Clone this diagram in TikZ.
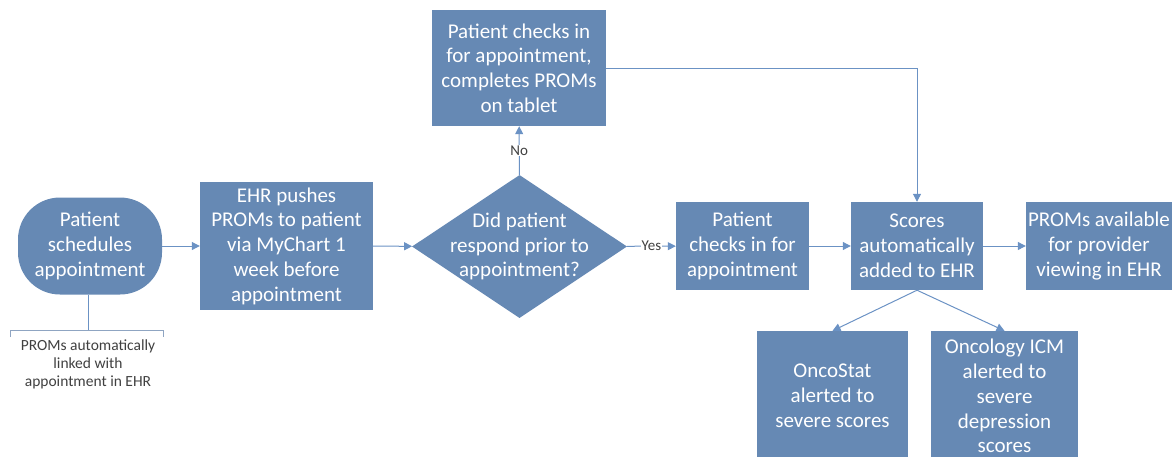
\documentclass[tikz,border=0pt]{standalone}
\usepackage{fontspec}
\setmainfont{Carlito}
\usepackage{tikz}
\usetikzlibrary{arrows.meta,shapes.geometric,positioning}

\definecolor{boxblue}{HTML}{6689B4}
\definecolor{lineblue}{HTML}{6B92C4}
\definecolor{bracketgray}{HTML}{8FA5C2}
\definecolor{labelgray}{HTML}{404040}

\tikzset{
  flowbox/.style={rectangle, fill=boxblue, text=white, align=center, inner sep=0pt,
    font=\fontsize{21}{24.8}\selectfont},
  decision/.style={diamond, fill=boxblue, inner sep=0pt},
  flowtext/.style={text=white, align=center, inner sep=0pt, font=\fontsize{21}{24.8}\selectfont},
  conn/.style={draw=lineblue, line width=1pt, -{Triangle[length=8pt,width=8pt]}},
  answer/.style={fill=white, text=labelgray, inner sep=1pt, font=\fontsize{15}{17}\selectfont},
  notetext/.style={text=labelgray, align=center, inner sep=0pt, font=\fontsize{15.5}{18}\selectfont}
}

\begin{document}
\begin{tikzpicture}[x=1pt,y=-1pt]
\useasboundingbox (0,0) rectangle (1174,456);

% boxes
\node[flowbox, rounded corners=42pt, minimum width=144pt, minimum height=97pt] (sched) at (90,246)
  {Patient\\schedules\\appointment};
\node[flowbox, minimum width=173pt, minimum height=128pt] (push) at (286.5,246)
  {EHR pushes\\PROMs to patient\\via MyChart 1\\week before\\appointment};
\node[decision, minimum width=215pt, minimum height=143pt] (resp) at (519.5,246.5) {};
\node[flowtext] at (resp) {Did patient\\respond prior to\\appointment?};
\node[flowbox, minimum width=174pt, minimum height=116pt] (tablet) at (519,68)
  {Patient checks in\\for appointment,\\completes PROMs\\on tablet};
\node[flowbox, minimum width=133pt, minimum height=88pt] (checkin) at (742.5,246)
  {Patient\\checks in for\\appointment};
\node[flowbox, minimum width=132pt, minimum height=88pt] (scores) at (917,246)
  {Scores\\automatically\\added to EHR};
\node[flowbox, minimum width=146pt, minimum height=88pt] (avail) at (1099,246)
  {PROMs available\\for provider\\viewing in EHR};
\node[flowbox, minimum width=151pt, minimum height=130pt] (oncostat) at (832.5,396)
  {OncoStat\\alerted to\\severe scores};
\node[flowbox, minimum width=147pt, minimum height=130pt] (icm) at (1004.5,396)
  {Oncology ICM\\alerted to\\severe\\depression\\scores};

% note under the first step
\coordinate (brk) at (88,330);
\draw[draw=lineblue, line width=1pt] (sched.south -| brk) -- (brk);
\draw[draw=bracketgray, line width=1pt] (10,337) -- (10,330) -- (163,330) -- (163,337);
\node[notetext] (note) at (88,364) {PROMs automatically\\linked with\\appointment in EHR};

% connectors
\draw[conn] (sched) -- (push);
\draw[conn] (push) -- (resp);
\draw[conn] (resp) -- node[answer] {Yes} (checkin);
\draw[conn] (resp) -- node[answer] {No} (tablet);
\draw[conn] (checkin) -- (scores);
\draw[conn] (scores) -- (avail);
\draw[conn] (tablet.east) -| (scores.north);
\draw[conn] (scores.south) -- (oncostat.north);
\draw[conn] (scores.south) -- (icm.north);
\end{tikzpicture}
\end{document}
